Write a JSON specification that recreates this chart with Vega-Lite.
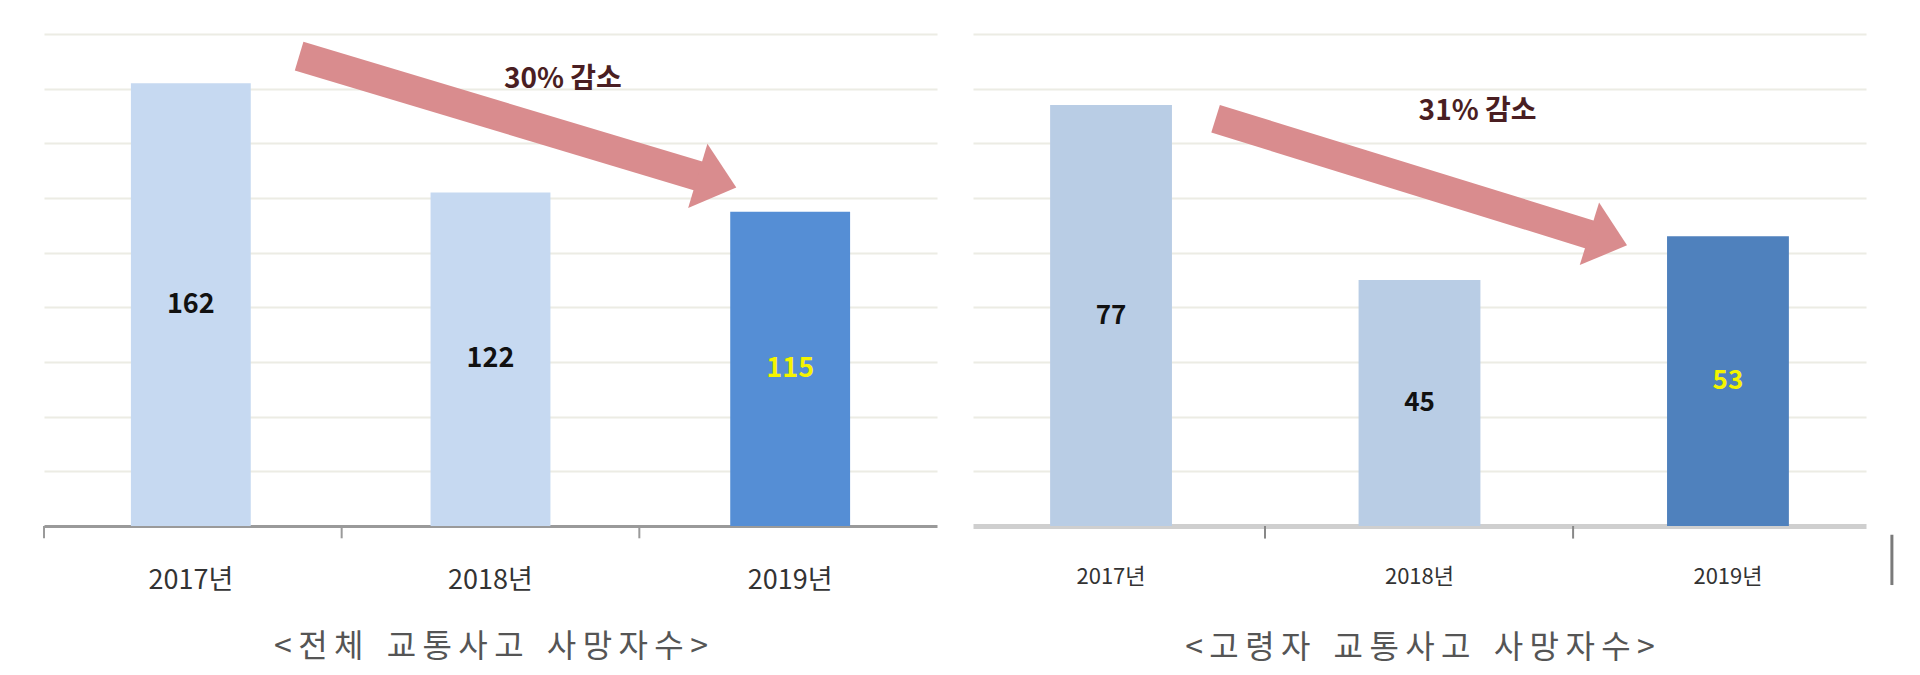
{
  "$schema": "https://vega.github.io/schema/vega-lite/v6.json",
  "background": "white",
  "padding": {"left": 43, "top": 34, "right": 0, "bottom": 10},
  "spacing": 36,
  "config": {
    "view": {"stroke": null},
    "font": "Noto Sans CJK KR",
    "axis": {"gridColor": "#ECECE4", "gridWidth": 2}
  },
  "hconcat": [
    {
      "width": 893,
      "height": 492,
      "data": {"values": [
        {"year": "2017년", "v": 162},
        {"year": "2018년", "v": 122},
        {"year": "2019년", "v": 115}
      ]},
      "resolve": {"scale": {"x": "independent"}},
      "layer": [
        {
          "mark": {"type": "bar"},
          "encoding": {
            "x": {"field": "year", "type": "nominal", "sort": null,
              "scale": {"type": "band", "paddingInner": 0.6, "paddingOuter": 0.29},
              "axis": {"title": "<\u2009전\u2009체\u2002 교\u2009통\u2009사\u2009고\u2002 사\u2009망\u2009자\u2009수\u2009>", "titleFontSize": 32, "titleFontWeight": "normal", "titleColor": "#555555", "titlePadding": 38,
                "labelAngle": 0, "labelFontSize": 27, "labelColor": "#333333", "labelPadding": 29,
                "tickSize": 12, "tickOpacity": 0,
                "domainColor": "#9A9A9A", "domainWidth": 3}},
            "y": {"field": "v", "type": "quantitative", "scale": {"domain": [0, 180], "nice": false},
              "axis": {"values": [20, 40, 60, 80, 100, 120, 140, 160, 180], "labels": false, "ticks": false, "domain": false, "title": null}},
            "color": {"condition": {"test": "datum.year === '2019년'", "value": "#558ED5"}, "value": "#C6D9F1"}
          }
        },
        {
          "mark": {"type": "text", "fontSize": 27, "fontWeight": "bold"},
          "encoding": {
            "x": {"field": "year", "type": "nominal", "sort": null,
              "scale": {"type": "band", "paddingInner": 0.6, "paddingOuter": 0.29}, "axis": null},
            "y": {"field": "v", "type": "quantitative", "stack": "zero", "bandPosition": 0.5},
            "text": {"field": "v"},
            "color": {"condition": {"test": "datum.year === '2019년'", "value": "#F4F400"}, "value": "#111111"}
          }
        },
        {
          "data": {"values": [{"b": 0}, {"b": 1}, {"b": 2}]},
          "mark": {"type": "rule", "strokeWidth": 2, "color": "#9A9A9A"},
          "encoding": {
            "x": {"field": "b", "type": "quantitative", "scale": {"domain": [0, 3], "nice": false, "zero": false}, "axis": null},
            "y": {"datum": 0, "type": "quantitative"},
            "y2": {"datum": -4.5}
          }
        },
        {
          "data": {"values": [{}]},
          "mark": {"type": "rule", "strokeWidth": 30, "strokeCap": "butt", "color": "#D98C8E"},
          "encoding": {
            "x": {"datum": 0.857, "type": "quantitative", "scale": {"domain": [0, 3], "nice": false, "zero": false}, "axis": null},
            "y": {"datum": 171.9, "type": "quantitative"},
            "x2": {"datum": 2.225},
            "y2": {"datum": 127.2}
          }
        },
        {
          "data": {"values": [{}]},
          "mark": {"type": "point", "shape": "M 0.6 0 L -0.6 -1 L -0.6 1 Z", "size": 4489, "filled": true, "opacity": 1, "color": "#D98C8E", "angle": 16.7},
          "encoding": {
            "x": {"datum": 2.261, "type": "quantitative", "scale": {"domain": [0, 3], "nice": false, "zero": false}, "axis": null},
            "y": {"datum": 126.0, "type": "quantitative"}
          }
        },
        {
          "data": {"values": [{}]},
          "mark": {"type": "text", "text": "30% 감소", "fontSize": 28, "fontWeight": "bold", "color": "#4A1E22"},
          "encoding": {
            "x": {"datum": 1.743, "type": "quantitative", "scale": {"domain": [0, 3], "nice": false, "zero": false}, "axis": null},
            "y": {"datum": 163, "type": "quantitative"}
          }
        }
      ]
    },
    {
      "width": 893,
      "height": 492,
      "data": {"values": [
        {"year": "2017년", "v": 77},
        {"year": "2018년", "v": 45},
        {"year": "2019년", "v": 53}
      ]},
      "resolve": {"scale": {"x": "independent"}},
      "layer": [
        {
          "mark": {"type": "bar"},
          "encoding": {
            "x": {"field": "year", "type": "nominal", "sort": null,
              "scale": {"type": "band", "paddingInner": 0.605, "paddingOuter": 0.25},
              "axis": {"title": "<\u2009고\u2009령\u2009자\u2002 교\u2009통\u2009사\u2009고\u2002 사\u2009망\u2009자\u2009수\u2009>", "titleFontSize": 32, "titleFontWeight": "normal", "titleColor": "#555555", "titlePadding": 45,
                "labelAngle": 0, "labelFontSize": 22, "labelColor": "#333333", "labelPadding": 28,
                "tickSize": 12, "tickOpacity": 0,
                "domainColor": "#CFCFCF", "domainWidth": 5}},
            "y": {"field": "v", "type": "quantitative", "scale": {"domain": [0, 90], "nice": false},
              "axis": {"values": [10, 20, 30, 40, 50, 60, 70, 80, 90], "labels": false, "ticks": false, "domain": false, "title": null}},
            "color": {"condition": {"test": "datum.year === '2019년'", "value": "#4F81BD"}, "value": "#B9CDE5"}
          }
        },
        {
          "mark": {"type": "text", "fontSize": 26, "fontWeight": "bold"},
          "encoding": {
            "x": {"field": "year", "type": "nominal", "sort": null,
              "scale": {"type": "band", "paddingInner": 0.605, "paddingOuter": 0.25}, "axis": null},
            "y": {"field": "v", "type": "quantitative", "stack": "zero", "bandPosition": 0.5},
            "text": {"field": "v"},
            "color": {"condition": {"test": "datum.year === '2019년'", "value": "#F4F400"}, "value": "#111111"}
          }
        },
        {
          "data": {"values": [{"b": 0.981}, {"b": 2.016}]},
          "mark": {"type": "rule", "strokeWidth": 2, "color": "#888888"},
          "encoding": {
            "x": {"field": "b", "type": "quantitative", "scale": {"domain": [0, 3], "nice": false, "zero": false}, "axis": null},
            "y": {"datum": 0, "type": "quantitative"},
            "y2": {"datum": -2.3}
          }
        },
        {
          "data": {"values": [{}]},
          "mark": {"type": "rule", "strokeWidth": 29, "strokeCap": "butt", "color": "#D98C8E"},
          "encoding": {
            "x": {"datum": 0.815, "type": "quantitative", "scale": {"domain": [0, 3], "nice": false, "zero": false}, "axis": null},
            "y": {"datum": 74.5, "type": "quantitative"},
            "x2": {"datum": 2.097},
            "y2": {"datum": 52.9}
          }
        },
        {
          "data": {"values": [{}]},
          "mark": {"type": "point", "shape": "M 0.6 0 L -0.6 -1 L -0.6 1 Z", "size": 4300, "filled": true, "opacity": 1, "color": "#D98C8E", "angle": 17.1},
          "encoding": {
            "x": {"datum": 2.134, "type": "quantitative", "scale": {"domain": [0, 3], "nice": false, "zero": false}, "axis": null},
            "y": {"datum": 52.4, "type": "quantitative"}
          }
        },
        {
          "data": {"values": [{}]},
          "mark": {"type": "text", "text": "31% 감소", "fontSize": 28, "fontWeight": "bold", "color": "#4A1E22"},
          "encoding": {
            "x": {"datum": 1.695, "type": "quantitative", "scale": {"domain": [0, 3], "nice": false, "zero": false}, "axis": null},
            "y": {"datum": 75.7, "type": "quantitative"}
          }
        },
        {
          "data": {"values": [{}]},
          "mark": {"type": "rule", "strokeWidth": 3, "color": "#7A7A7A"},
          "encoding": {
            "x": {"datum": 3.087, "type": "quantitative", "scale": {"domain": [0, 3], "nice": false, "zero": false}, "axis": null},
            "y": {"datum": -1.6, "type": "quantitative"},
            "y2": {"datum": -10.8}
          }
        }
      ]
    }
  ]
}
